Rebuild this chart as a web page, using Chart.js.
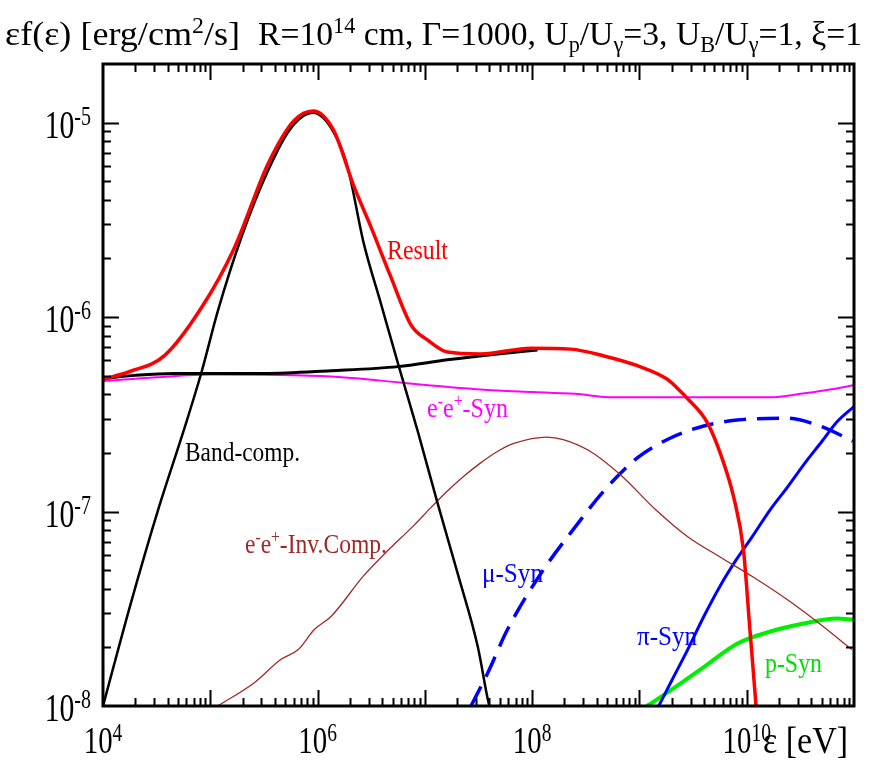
<!DOCTYPE html>
<html>
<head>
<meta charset="utf-8">
<title>Spectrum</title>
<script src="https://cdn.jsdelivr.net/npm/chart.js@4.4.1/dist/chart.umd.min.js"></script>
<style>
  body { margin: 0; background: #fff; }
  canvas { display: block; }
</style>
</head>
<body>
<canvas id="spec" width="877" height="760"></canvas>
<script>
// values are log10(energy / eV) and log10(eps f(eps) / erg cm^-2 s^-1)
var resultLogE = [4.0, 4.25, 4.57, 4.92, 5.22, 5.54, 5.78, 5.96, 6.15, 6.34, 6.5, 6.68, 6.87, 7.03, 7.21, 7.52, 7.99, 8.36, 8.67, 8.98, 9.26, 9.38, 9.45, 9.63, 9.76, 9.88, 9.97, 10.03, 10.08, 10.1];
var resultLogF = [-6.32, -6.28, -6.2, -5.95, -5.65, -5.21, -4.99, -4.94, -5.04, -5.33, -5.54, -5.79, -6.04, -6.12, -6.18, -6.19, -6.16, -6.165, -6.2, -6.25, -6.32, -6.38, -6.42, -6.54, -6.71, -6.93, -7.2, -7.61, -7.95, -8.1];

var bandLogE = [4.0, 4.25, 4.52, 4.76, 4.92, 5.07, 5.29, 5.54, 5.75, 5.96, 6.15, 6.28, 6.43, 6.59, 6.758, 6.94, 7.112, 7.307, 7.493, 7.586, 7.61];
var bandLogF = [-8.0, -7.49, -6.98, -6.57, -6.28, -5.97, -5.59, -5.245, -5.03, -4.95, -5.05, -5.23, -5.62, -5.93, -6.255, -6.6, -6.944, -7.321, -7.694, -7.964, -8.02];

var lowSumLogE = [4.0, 4.3, 4.67, 5.5, 6.125, 6.75, 7.21, 7.68, 8.05];
var lowSumLogF = [-6.316, -6.3, -6.29, -6.29, -6.276, -6.255, -6.22, -6.19, -6.17];

var synLogE = [4.0, 4.5, 5.0, 5.66, 6.125, 6.59, 7.056, 7.68, 8.0, 8.4, 8.75, 9.5, 10.22, 10.52, 10.84, 11.0];
var synLogF = [-6.33, -6.31, -6.296, -6.298, -6.306, -6.327, -6.352, -6.378, -6.385, -6.395, -6.413, -6.413, -6.413, -6.393, -6.367, -6.35];

var icLogE = [5.07, 5.41, 5.66, 5.82, 5.97, 6.125, 6.43, 6.62, 6.9, 7.056, 7.21, 7.36, 7.52, 7.68, 7.83, 8.14, 8.29, 8.54, 8.82, 9.16, 9.45, 9.755, 10.06, 10.38, 10.68, 10.98];
var icLogF = [-8.0, -7.88, -7.76, -7.71, -7.607, -7.54, -7.33, -7.22, -7.07, -6.98, -6.895, -6.82, -6.75, -6.69, -6.65, -6.617, -6.63, -6.69, -6.81, -6.995, -7.13, -7.235, -7.337, -7.454, -7.577, -7.71];

var muLogE = [7.43, 7.586, 7.77, 8.08, 8.42, 8.67, 8.98, 9.29, 9.6, 9.91, 10.38, 10.68, 10.99];
var muLogF = [-8.0, -7.83, -7.607, -7.32, -7.066, -6.893, -6.724, -6.622, -6.56, -6.53, -6.52, -6.56, -6.638];

var piLogE = [9.18, 9.3, 9.45, 9.6, 9.755, 9.9, 10.05, 10.22, 10.38, 10.53, 10.7, 10.84, 11.0];
var piLogF = [-8.0, -7.87, -7.71, -7.54, -7.38, -7.25, -7.13, -6.99, -6.875, -6.76, -6.64, -6.54, -6.46];

var pLogE = [9.07, 9.29, 9.6, 9.91, 10.22, 10.53, 10.84, 11.0];
var pLogF = [-8.0, -7.92, -7.8, -7.68, -7.617, -7.576, -7.55, -7.556];

var xTickExp = [4, 6, 8, 10];
var yTickExp = [-5, -6, -7, -8];

function pts(le, lf) {
  return le.map(function (e, i) {
    return { x: Math.pow(10, e), y: Math.pow(10, lf[i]) };
  });
}

function line(data, color, width, dash) {
  return {
    data: data,
    borderColor: color,
    borderWidth: width,
    borderDash: dash || [],
    pointRadius: 0,
    fill: false,
    cubicInterpolationMode: 'monotone'
  };
}

var SERIF = '"Liberation Serif", "DejaVu Serif", serif';

// runs: [text, 0 normal | 1 super | -1 sub]
function drawRich(ctx, runs, o) {
  var sup = o.supSize || o.size * 0.66;
  var raise = o.raise || o.size * 0.36;
  var drop = o.drop || o.size * 0.2;
  var w = 0;
  runs.forEach(function (r) {
    ctx.font = (r[1] ? sup : o.size) + 'px ' + SERIF;
    w += ctx.measureText(r[0]).width;
  });
  var sx = o.width ? o.width / w : (o.sx || 1);
  var x = o.x;
  if (o.align === 'center') x -= w * sx / 2;
  if (o.align === 'right') x -= w * sx;
  ctx.save();
  ctx.translate(x, o.y);
  ctx.scale(sx, 1);
  ctx.fillStyle = o.color || '#000';
  ctx.textBaseline = 'alphabetic';
  ctx.textAlign = 'left';
  var cx = 0;
  runs.forEach(function (r) {
    ctx.font = (r[1] ? sup : o.size) + 'px ' + SERIF;
    var dy = r[1] === 1 ? -raise : (r[1] === -1 ? drop : 0);
    ctx.fillText(r[0], cx, dy);
    cx += ctx.measureText(r[0]).width;
  });
  ctx.restore();
}

var curveLabels = [
  { runs: [['Result', 0]], color: '#ff0000', x: 387, w: 61, y: 259 },
  { runs: [['e', 0], ['-', 1], ['e', 0], ['+', 1], ['-Syn', 0]], color: '#ff00ff', x: 427, w: 81, y: 417 },
  { runs: [['Band-comp.', 0]], color: '#000000', x: 185, w: 115, y: 461 },
  { runs: [['e', 0], ['-', 1], ['e', 0], ['+', 1], ['-Inv.Comp.', 0]], color: '#a02828', x: 245, w: 142, y: 553 },
  { runs: [['\u03bc-Syn', 0]], color: '#0000ff', x: 482, w: 61, y: 582 },
  { runs: [['\u03c0-Syn', 0]], color: '#0000ff', x: 637, w: 60, y: 645 },
  { runs: [['p-Syn', 0]], color: '#00e000', x: 765, w: 57, y: 672 }
];

var framePlugin = {
  id: 'frame',
  afterDraw: function (chart) {
    var ctx = chart.ctx;
    var a = chart.chartArea;
    var xs = chart.scales.x, ys = chart.scales.y;
    ctx.save();
    ctx.strokeStyle = '#000';
    ctx.lineWidth = 2;
    ctx.beginPath();
    var e, m, p;
    for (e = 4; e <= 10; e++) {
      for (m = 1; m <= 9; m++) {
        var v = m * Math.pow(10, e);
        if (v <= xs.min || v >= xs.max) continue;
        p = Math.round(xs.getPixelForValue(v)) + 0.5;
        var L = m === 1 ? 16 : 8;
        ctx.moveTo(p, a.bottom); ctx.lineTo(p, a.bottom - L);
        ctx.moveTo(p, a.top); ctx.lineTo(p, a.top + L);
      }
    }
    for (e = -8; e <= -5; e++) {
      for (m = 1; m <= 9; m++) {
        var u = m * Math.pow(10, e);
        if (u <= ys.min || u >= ys.max) continue;
        p = Math.round(ys.getPixelForValue(u)) + 0.5;
        var L2 = m === 1 ? 16 : 8;
        ctx.moveTo(a.left, p); ctx.lineTo(a.left + L2, p);
        ctx.moveTo(a.right, p); ctx.lineTo(a.right - L2, p);
      }
    }
    ctx.stroke();
    ctx.lineWidth = 3;
    ctx.strokeRect(a.left, a.top, a.right - a.left, a.bottom - a.top);
    ctx.restore();

    yTickExp.forEach(function (k) {
      var py = ys.getPixelForValue(Math.pow(10, k));
      drawRich(ctx, [['10', 0], ['-' + (-k), 1]], { x: 91, y: py + 15, size: 40, supSize: 27, raise: 13, sx: 0.74, align: 'right' });
    });
    xTickExp.forEach(function (k) {
      var px = xs.getPixelForValue(Math.pow(10, k));
      drawRich(ctx, [['10', 0], [String(k), 1]], { x: px, y: 753, size: 37, supSize: 25, raise: 12, sx: 0.78, align: 'center' });
    });
    drawRich(ctx, [['\u03b5 [eV]', 0]], { x: 763, y: 753, size: 37, width: 85 });

    drawRich(ctx, [['\u03b5f(\u03b5) [erg/cm', 0], ['2', 1], ['/s]', 0]], { x: 5, y: 45, size: 34, width: 235 });
    drawRich(ctx, [['R=10', 0], ['14', 1], [' cm, \u0393=1000, U', 0], ['p', -1], ['/U', 0], ['\u03b3', -1],
      ['=3, U', 0], ['B', -1], ['/U', 0], ['\u03b3', -1], ['=1, \u03be=1', 0]], { x: 258, y: 45, size: 34, width: 604 });

    curveLabels.forEach(function (l) {
      drawRich(ctx, l.runs, { x: l.x, y: l.y, size: 27, width: l.w, color: l.color });
    });
  }
};

new Chart(document.getElementById('spec'), {
  type: 'line',
  data: {
    datasets: [
      line(pts(resultLogE, resultLogF), '#ff0000', 3.5),
      line(pts(lowSumLogE, lowSumLogF), '#000000', 3),
      line(pts(bandLogE, bandLogF), '#000000', 2.5),
      line(pts(synLogE, synLogF), '#ff00ff', 2),
      line(pts(icLogE, icLogF), '#a02828', 1.3),
      line(pts(muLogE, muLogF), '#0000ff', 3.5, [22, 11]),
      line(pts(piLogE, piLogF), '#0000ff', 3),
      line(pts(pLogE, pLogF), '#00ee00', 4)
    ]
  },
  options: {
    responsive: false,
    animation: false,
    devicePixelRatio: 1,
    layout: { padding: { left: 103, right: 23, top: 64, bottom: 54 } },
    plugins: { legend: { display: false }, tooltip: { enabled: false }, title: { display: false } },
    scales: {
      x: { type: 'logarithmic', min: 1e4, max: 1e11, display: false },
      y: { type: 'logarithmic', min: 1e-8, max: 2e-5, display: false }
    }
  },
  plugins: [framePlugin]
});
</script>
</body>
</html>
